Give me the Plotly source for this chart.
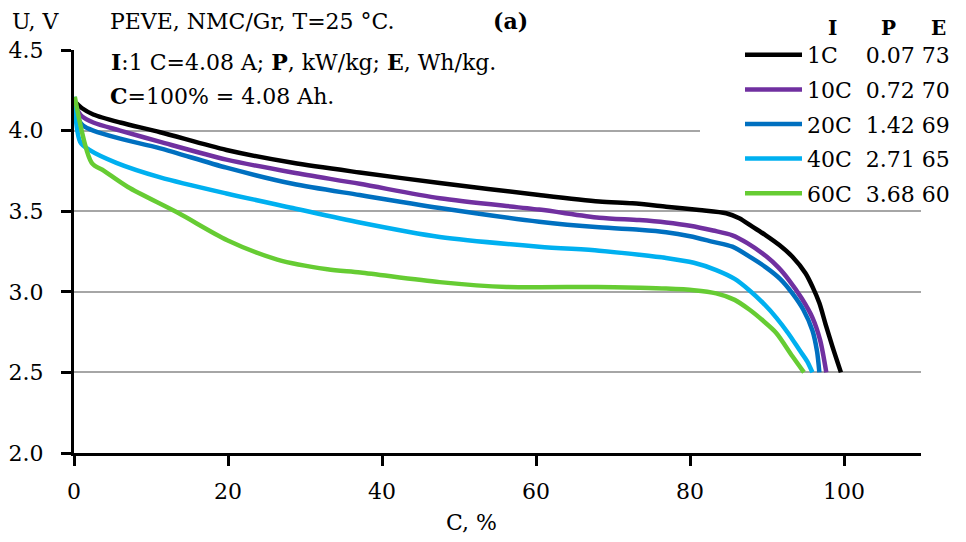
import plotly.graph_objects as go

# ---- data ----
series_names = ["1C", "10C", "20C", "40C", "60C"]
power_kw_kg = ["0.07", "0.72", "1.42", "2.71", "3.68"]
energy_wh_kg = ["73", "70", "69", "65", "60"]
legend_header = ["I", "P", "E"]
colors = ["#000000", "#7030A0", "#0070C0", "#00B0F0", "#66CC33"]

x_1c = [0.3, 1.0, 2.5, 6.0, 11.2, 19.8, 28.4, 37.1, 47.5, 60.4, 68.2, 72.5, 76.9, 81.2, 84.7, 86.4, 88.1, 89.8, 91.6, 93.3, 95.0, 95.9, 96.8, 97.6, 98.5, 99.6]
y_1c = [4.17, 4.14, 4.10, 4.05, 3.99, 3.88, 3.80, 3.74, 3.675, 3.60, 3.56, 3.549, 3.528, 3.507, 3.487, 3.456, 3.404, 3.352, 3.29, 3.217, 3.115, 3.032, 2.93, 2.80, 2.66, 2.50]

x_10c = [0.3, 1.0, 2.5, 6.0, 11.2, 19.8, 28.4, 37.1, 47.5, 60.4, 68.2, 73.4, 76.9, 80.0, 83.0, 85.5, 87.5, 89.9, 91.5, 92.9, 94.5, 95.9, 96.9, 97.7]
y_10c = [4.14, 4.09, 4.05, 4.00, 3.93, 3.82, 3.74, 3.67, 3.58, 3.51, 3.46, 3.445, 3.43, 3.41, 3.38, 3.35, 3.30, 3.22, 3.15, 3.07, 2.96, 2.84, 2.70, 2.50]

x_20c = [0.0, 0.6, 1.2, 2.5, 6.0, 11.2, 19.8, 28.4, 37.1, 47.5, 60.4, 68.2, 73.4, 76.9, 80.0, 83.0, 85.5, 88.0, 89.9, 91.7, 93.3, 94.7, 95.9, 96.5, 96.8]
y_20c = [4.20, 4.07, 4.03, 4.00, 3.95, 3.89, 3.77, 3.67, 3.60, 3.52, 3.435, 3.40, 3.385, 3.37, 3.345, 3.31, 3.28, 3.21, 3.15, 3.08, 2.99, 2.89, 2.76, 2.63, 2.50]

x_40c = [0.0, 0.8, 2.0, 5.5, 11.2, 19.8, 28.4, 37.1, 47.5, 60.4, 68.2, 73.4, 76.9, 80.5, 83.4, 85.8, 87.7, 89.5, 91.2, 92.8, 94.2, 95.2, 95.9]
y_40c = [4.21, 3.93, 3.88, 3.80, 3.71, 3.61, 3.52, 3.43, 3.34, 3.28, 3.255, 3.23, 3.21, 3.18, 3.135, 3.08, 3.01, 2.93, 2.84, 2.74, 2.64, 2.57, 2.50]

x_60c = [0.1, 2.3, 3.9, 7.0, 13.5, 19.9, 26.4, 32.9, 37.2, 47.5, 56.2, 68.0, 73.4, 76.9, 80.5, 83.4, 85.8, 87.7, 89.5, 91.2, 93.3, 94.8]
y_60c = [4.21, 3.80, 3.75, 3.65, 3.49, 3.32, 3.20, 3.14, 3.12, 3.06, 3.03, 3.03, 3.025, 3.02, 3.01, 2.99, 2.95, 2.89, 2.82, 2.745, 2.60, 2.50]

xs = [x_1c, x_10c, x_20c, x_40c, x_60c]
ys = [y_1c, y_10c, y_20c, y_40c, y_60c]

x_ticks = [0, 20, 40, 60, 80, 100]
y_ticks = [2.0, 2.5, 3.0, 3.5, 4.0, 4.5]

FONT = "DejaVu Serif"
NB = "\u00a0"

fig = go.Figure()
for i, name in enumerate(series_names):
    pad = NB * (4 if len(name) == 2 else 2)
    label = f"{name}{pad}{power_kw_kg[i]}{NB}{energy_wh_kg[i]}"
    fig.add_trace(go.Scatter(
        x=xs[i], y=ys[i], mode="lines", name=label,
        legendgroup=name,
        line=dict(color=colors[i], width=4.5, shape="spline", smoothing=0.8),
    ))

# plot area pixel geometry
L, R, T, B = 74, 45, 50, 89
W, H = 966, 542
pw, ph = W - L - R, H - T - B

def px_x(p):
    return (p - L) / pw

def px_y(p):
    return (H - B - p) / ph

fig.update_layout(
    width=W, height=H,
    margin=dict(l=L, r=R, t=T, b=B, autoexpand=False),
    paper_bgcolor="white", plot_bgcolor="white",
    font=dict(family=FONT, size=22, color="black"),
    showlegend=True,
    legend=dict(
        x=px_x(740), y=px_y(34), xanchor="left", yanchor="top",
        bgcolor="rgba(0,0,0,0)", borderwidth=0,
        font=dict(family=FONT, size=22, color="black"),
        tracegroupgap=3,
        itemwidth=57,
    ),
    xaxis=dict(
        range=[0, 110], tickvals=x_ticks, ticktext=[str(v) for v in x_ticks],
        showline=True, linecolor="black", linewidth=3,
        ticks="outside", ticklen=10, tickwidth=3, tickcolor="black",
        showgrid=False, zeroline=False, ticklabelstandoff=7,
        tickfont=dict(family=FONT, size=22, color="black"),
    ),
    yaxis=dict(
        range=[2.0, 4.5], tickvals=y_ticks, ticktext=[f"{v:.1f}" for v in y_ticks],
        showline=True, linecolor="black", linewidth=3,
        ticks="outside", ticklen=10, tickwidth=3, tickcolor="black",
        showgrid=True, gridcolor="#a6a6a6", gridwidth=2, zeroline=False,
        ticklabelstandoff=13,
        tickfont=dict(family=FONT, size=22, color="black"),
    ),
)

# white background panel behind the legend block (hides gridlines there)
fig.add_shape(type="rect", xref="paper", yref="paper",
              x0=px_x(700), x1=px_x(962), y0=px_y(200), y1=px_y(16),
              fillcolor="white", line=dict(width=0), layer="above")

ann_font = dict(family=FONT, size=22, color="black")
annotations = [
    dict(text="U, V", x=px_x(10), y=px_y(21), xanchor="left", yanchor="middle"),
    dict(text="PEVE, NMC/Gr, T=25 °C.", x=px_x(108), y=px_y(21), xanchor="left", yanchor="middle"),
    dict(text="<b>(a)</b>", x=px_x(510), y=px_y(21), xanchor="center", yanchor="middle"),
    dict(text="<b>I</b>:1 C=4.08 A; <b>P</b>, kW/kg; <b>E</b>, Wh/kg.", x=px_x(104), y=px_y(62),
         xanchor="left", yanchor="middle", bgcolor="white", borderpad=6, width=504, align="left"),
    dict(text="<b>C</b>=100% = 4.08 Ah.", x=px_x(108), y=px_y(96), xanchor="left", yanchor="middle"),
]
for a in annotations:
    fig.add_annotation(xref="paper", yref="paper", showarrow=False, font=ann_font, **a)

# legend column headers
for txt, xc in zip(legend_header, [832, 888, 938]):
    fig.add_annotation(text=f"<b>{txt}</b>", xref="paper", yref="paper", x=px_x(xc), y=px_y(28),
                       xanchor="center", yanchor="middle", showarrow=False,
                       font=dict(family=FONT, size=20, color="black"))

fig.add_annotation(text="C, %", xref="x", x=51.6, yref="paper", y=px_y(522),
                   xanchor="center", yanchor="middle", showarrow=False, font=ann_font)

fig.write_html("out.html", post_script="document.body.style.margin='0';",
               config={"displayModeBar": False})
